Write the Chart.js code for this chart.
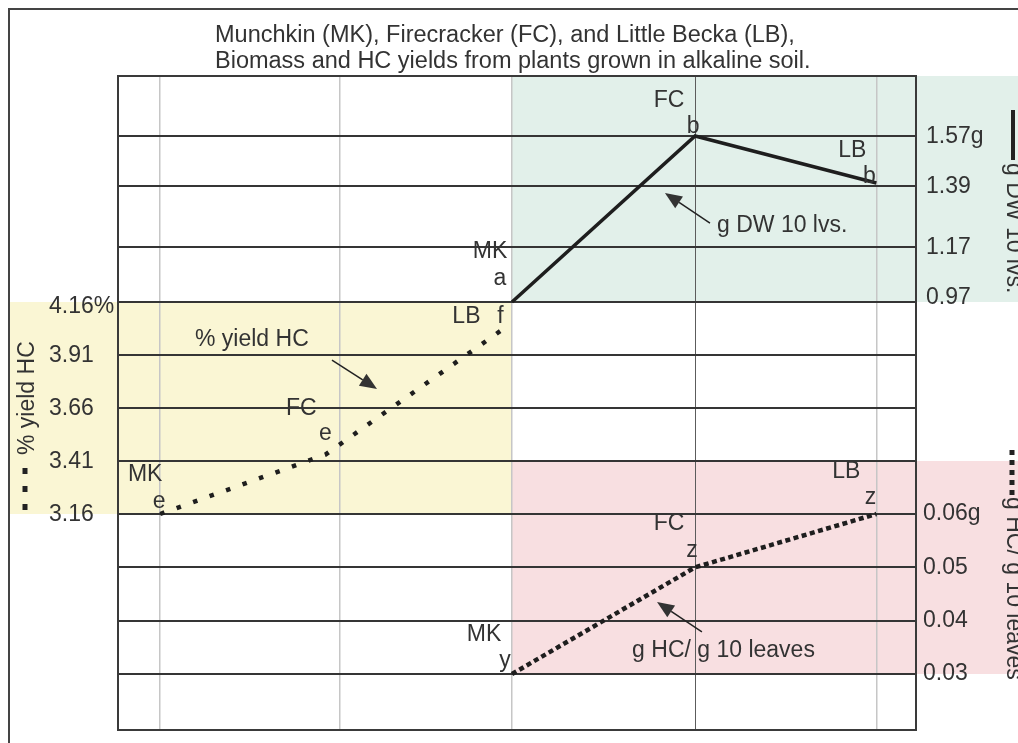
<!DOCTYPE html>
<html>
<head>
<meta charset="utf-8">
<script src="https://cdn.jsdelivr.net/npm/chart.js@4.4.1/dist/chart.umd.min.js"></script>
<style>
  html, body { margin: 0; padding: 0; background: #fff; }
  canvas { display: block; }
</style>
</head>
<body>
<canvas id="chart" width="1018" height="743"></canvas>
<script>
// cultivars, same order in every series
const cultivars = ['MK', 'FC', 'LB'];
const titleLines = [
  'Munchkin (MK), Firecracker (FC), and Little Becka (LB),',
  'Biomass and HC yields from plants grown in alkaline soil.',
];

// % yield HC  (left axis)
const pctPos = [0.04, 0.96, 1.98];
const pctYield = [3.16, 3.44, 4.05];
const pctLetters = ['e', 'e', 'f'];
const pctTicks = [3.16, 3.41, 3.66, 3.91, 4.16];

// g DW of 10 leaves  (right axis, upper)
const dwPos = [2, 3.02, 4.03];
const dwGrams = [0.97, 1.57, 1.40];
const dwLetters = ['a', 'b', 'b'];
const dwTicks = [0.97, 1.17, 1.39, 1.57];

// g HC / g of 10 leaves  (right axis, lower)
const hcPos = [2, 3.02, 4.03];
const hcPerLeaf = [0.03, 0.05, 0.06];
const hcLetters = ['y', 'z', 'z'];
const hcTicks = [0.03, 0.04, 0.05, 0.06];

// vertical guide lines as drawn in the original
const xGrid = [0.04, 1.04, 2, 3.02, 4.03];

const FONT = '"Liberation Sans", Arial, sans-serif';
const INK = '#333';

// where the cultivar name / significance letter sit, relative to each point
// [nameDx, nameBaselineDy, letterDx, letterBaselineDy]
const nudge = {
  yPct: [[-15, -33, -1, -6], [-24, -40, 0, -15], [-42, -2, -8, -2]],
  yDw: [[-22, -44, -12, -17], [-26, -29, -2, -3], [-24, -26, -7, 0]],
  yHc: [[-28, -33, -7, -7], [-26, -37, -3, -10], [-30, -36, -6, -10]],
};

// callouts in data units: text start, arrow tail, arrow tip
const callouts = [
  { axis: 'yPct', text: '% yield HC', at: [0.234, 3.952], from: [0.997, 3.886], to: [1.248, 3.75] },
  { axis: 'yDw', text: 'g DW 10 lvs.', at: [3.142, 1.223], from: [3.103, 1.2555], to: [2.852, 1.364] },
  { axis: 'yHc', text: 'g HC/ g 10 leaves', at: [2.669, 0.0332], from: [3.058, 0.0379], to: [2.808, 0.0435] },
];

const toPoints = (xs, ys) => xs.map((x, i) => ({ x, y: ys[i] }));
const setTicks = (vals) => (scale) => { scale.ticks = vals.map((v) => ({ value: v })); };

function arrow(ctx, x1, y1, x2, y2) {
  const ang = Math.atan2(y2 - y1, x2 - x1);
  const len = 17, half = 7;
  const bx = x2 - len * Math.cos(ang), by = y2 - len * Math.sin(ang);
  ctx.beginPath();
  ctx.moveTo(x1, y1);
  ctx.lineTo(bx, by);
  ctx.lineWidth = 1.5;
  ctx.stroke();
  ctx.beginPath();
  ctx.moveTo(x2, y2);
  ctx.lineTo(bx + half * Math.sin(ang), by - half * Math.cos(ang));
  ctx.lineTo(bx - half * Math.sin(ang), by + half * Math.cos(ang));
  ctx.closePath();
  ctx.fill();
}

const overlay = {
  id: 'overlay',
  beforeDraw(chart) {
    const { ctx, chartArea: a, scales } = chart;
    const { x, yDw, yPct, yHc } = scales;
    const xMid = x.getPixelForValue(2);
    const W = chart.width;
    ctx.save();
    // shaded bands behind each series' range
    ctx.fillStyle = '#e2f0ea';
    ctx.fillRect(xMid, a.top, W - xMid, yDw.getPixelForValue(dwTicks[0]) - a.top);
    ctx.fillStyle = '#faf6d4';
    const pTop = yPct.getPixelForValue(pctTicks[pctTicks.length - 1]);
    ctx.fillRect(10, pTop, xMid - 10, yPct.getPixelForValue(pctTicks[0]) - pTop);
    ctx.fillStyle = '#f8dfe1';
    const hTop = yPct.getPixelForValue(pctTicks[1]);
    ctx.fillRect(xMid, hTop, W - xMid, yHc.getPixelForValue(hcTicks[0]) - hTop);

    // outer frame (open to the right / bottom, as cropped)
    ctx.strokeStyle = '#444';
    ctx.lineWidth = 2;
    ctx.beginPath();
    ctx.moveTo(9, chart.height);
    ctx.lineTo(9, 9);
    ctx.lineTo(W, 9);
    ctx.stroke();
    ctx.restore();
  },
  beforeDatasetsDraw(chart) {
    const { ctx, chartArea: a } = chart;
    ctx.save();
    ctx.strokeStyle = '#3a3a3a';
    ctx.lineWidth = 2;
    ctx.strokeRect(a.left, a.top, a.right - a.left, a.bottom - a.top);
    ctx.restore();
  },
  afterDatasetsDraw(chart) {
    const { ctx, chartArea: a, scales } = chart;
    const { x, yDw, yPct, yHc } = scales;
    ctx.save();
    ctx.fillStyle = INK;
    ctx.strokeStyle = '#222';

    // title
    ctx.font = '23.5px ' + FONT;
    ctx.textAlign = 'left';
    ctx.textBaseline = 'alphabetic';
    ctx.fillText(titleLines[0], 215, 42);
    ctx.fillText(titleLines[1], 215, 68);

    // tick labels
    ctx.font = '23px ' + FONT;
    ctx.textBaseline = 'middle';
    pctTicks.forEach((v, i) => {
      const last = i === pctTicks.length - 1;
      ctx.fillText(v.toFixed(2) + (last ? '%' : ''), 49, yPct.getPixelForValue(v) + (last ? 5 : 1));
    });
    dwTicks.forEach((v, i) => {
      const last = i === dwTicks.length - 1;
      ctx.fillText(v.toFixed(2) + (last ? 'g' : ''), a.right + 10, yDw.getPixelForValue(v) + (i === 0 ? -4 : 1));
    });
    hcTicks.forEach((v, i) => {
      const last = i === hcTicks.length - 1;
      ctx.fillText(v.toFixed(2) + (last ? 'g' : ''), a.right + 7, yHc.getPixelForValue(v));
    });

    // point labels: cultivar + letter
    ctx.textAlign = 'center';
    ctx.textBaseline = 'alphabetic';
    const series = [
      ['yPct', pctPos, pctYield, pctLetters],
      ['yDw', dwPos, dwGrams, dwLetters],
      ['yHc', hcPos, hcPerLeaf, hcLetters],
    ];
    series.forEach(([id, xs, ys, letters]) => {
      xs.forEach((xv, i) => {
        const px = x.getPixelForValue(xv);
        const py = scales[id].getPixelForValue(ys[i]);
        const n = nudge[id][i];
        ctx.fillText(cultivars[i], px + n[0], py + n[1]);
        ctx.fillText(letters[i], px + n[2], py + n[3]);
      });
    });

    // callouts with arrows
    ctx.textAlign = 'left';
    callouts.forEach((c) => {
      const y = scales[c.axis];
      ctx.fillText(c.text, x.getPixelForValue(c.at[0]), y.getPixelForValue(c.at[1]));
      arrow(ctx,
        x.getPixelForValue(c.from[0]), y.getPixelForValue(c.from[1]),
        x.getPixelForValue(c.to[0]), y.getPixelForValue(c.to[1]));
    });

    // axis titles with their line samples
    ctx.save();
    ctx.translate(34, 455);
    ctx.rotate(-Math.PI / 2);
    ctx.fillText('% yield HC', 0, 0);
    ctx.restore();
    ctx.lineWidth = 5;
    ctx.setLineDash([6, 12]);
    ctx.beginPath();
    ctx.moveTo(25, 510);
    ctx.lineTo(25, 466);
    ctx.stroke();

    ctx.setLineDash([]);
    ctx.lineWidth = 4;
    ctx.beginPath();
    ctx.moveTo(1013, 110);
    ctx.lineTo(1013, 160);
    ctx.stroke();
    ctx.save();
    ctx.translate(1007, 163);
    ctx.rotate(Math.PI / 2);
    ctx.fillText('g DW 10 lvs.', 0, 0);
    ctx.restore();

    ctx.lineWidth = 5;
    ctx.setLineDash([5, 5]);
    ctx.beginPath();
    ctx.moveTo(1012, 450);
    ctx.lineTo(1012, 497);
    ctx.stroke();
    ctx.setLineDash([]);
    ctx.save();
    ctx.translate(1007, 497);
    ctx.rotate(Math.PI / 2);
    ctx.fillText('g HC/ g 10 leaves', 0, 0);
    ctx.restore();

    ctx.restore();
  },
};

const hiddenY = (position, min, max, ticks) => ({
  type: 'linear',
  position,
  min,
  max,
  afterBuildTicks: setTicks(ticks),
  ticks: { display: false },
  grid: { drawTicks: false, color: '#353535', lineWidth: 2 },
  border: { display: false },
});

const isDarkGuide = (c) => c.tick && c.tick.value === xGrid[3];

new Chart(document.getElementById('chart'), {
  type: 'line',
  data: {
    datasets: [
      {
        label: 'g DW 10 lvs.',
        data: toPoints(dwPos, dwGrams),
        yAxisID: 'yDw',
        borderColor: '#1e1e1e',
        borderWidth: 3.5,
      },
      {
        label: '% yield HC',
        data: toPoints(pctPos, pctYield),
        yAxisID: 'yPct',
        borderColor: '#1e1e1e',
        borderWidth: 4.5,
        borderDash: [4.5, 13],
      },
      {
        label: 'g HC/ g 10 leaves',
        data: toPoints(hcPos, hcPerLeaf),
        yAxisID: 'yHc',
        borderColor: '#1e1e1e',
        borderWidth: 4.5,
        borderDash: [5, 3.5],
      },
    ],
  },
  plugins: [overlay],
  options: {
    responsive: false,
    animation: false,
    devicePixelRatio: 1,
    layout: { padding: { left: 118, right: 102, top: 76, bottom: 13 } },
    elements: {
      point: { radius: 0, hoverRadius: 0 },
      line: { tension: 0, borderCapStyle: 'butt', borderJoinStyle: 'miter' },
    },
    plugins: { legend: { display: false }, tooltip: { enabled: false } },
    scales: {
      x: {
        type: 'linear',
        min: -0.195,
        max: 4.2507,
        afterBuildTicks: setTicks(xGrid),
        ticks: { display: false },
        grid: {
          drawTicks: false,
          color: (c) => (isDarkGuide(c) ? '#5c5c5c' : '#c6c6c6'),
          lineWidth: (c) => (isDarkGuide(c) ? 1 : 1.5),
        },
        border: { display: false },
      },
      yPct: hiddenY('left', 2.14113, 5.22604, pctTicks),
      yDw: hiddenY('right', -0.57697, 1.78686, dwTicks),
      yHc: hiddenY('right', 0.0195, 0.142125, hcTicks),
    },
  },
});
</script>
</body>
</html>
